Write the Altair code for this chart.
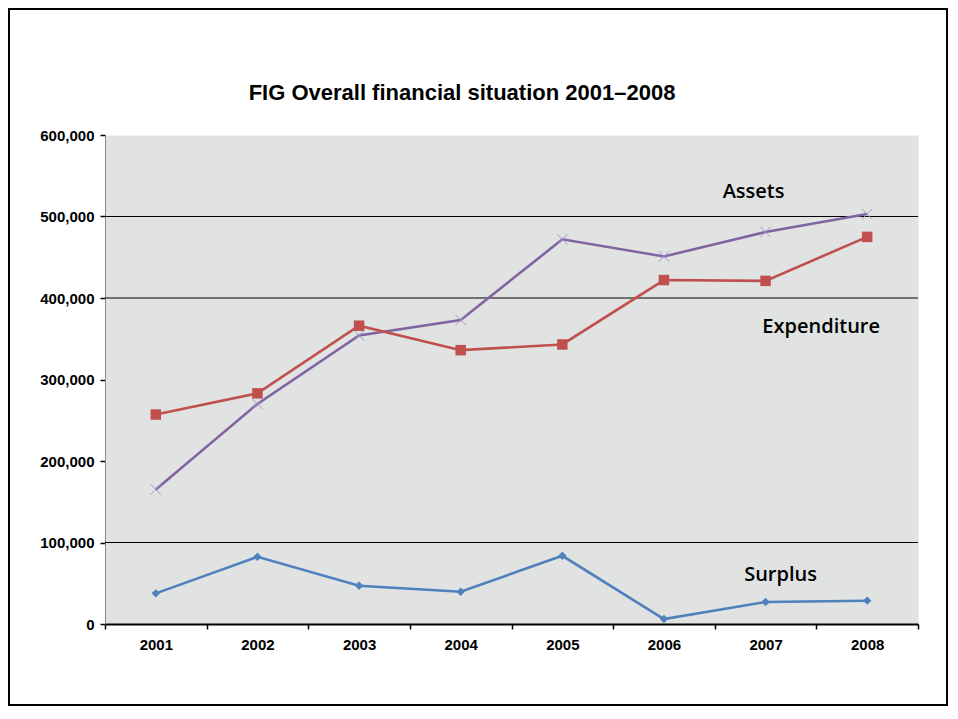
import altair as alt
import pandas as pd

# ---- data ----
years = ["2001", "2002", "2003", "2004", "2005", "2006", "2007", "2008"]
assets = [165000, 270000, 354000, 373000, 472000, 451000, 481000, 503000]
expenditure = [257000, 283000, 366000, 336000, 343000, 422000, 421000, 475000]
surplus = [37600, 82500, 47000, 39600, 83700, 6100, 27000, 28600]

series_names = ["Assets", "Expenditure", "Surplus"]
series_colors = ["#8064A2", "#C0504D", "#4F81BD"]

y_ticks = [0, 100000, 200000, 300000, 400000, 500000, 600000]
gridline_values = [100000, 400000, 500000]

label_texts = ["Assets", "Expenditure", "Surplus"]
label_years = ["2007", "2008", "2007"]
label_values = [530000, 365000, 60000]

title_text = "FIG Overall financial situation 2001\u20132008"

# ---- tables ----
rows = []
for name, vals in zip(series_names, [assets, expenditure, surplus]):
    for yr, v in zip(years, vals):
        rows.append({"year": yr, "series": name, "value": v})
df = pd.DataFrame(rows)
grid_df = pd.DataFrame({"value": gridline_values})
ann_df = pd.DataFrame({"year": label_years, "value": label_values, "label": label_texts})

AXIS_FONT = "Liberation Sans"
W, H = 813, 489

x_enc = alt.X(
    "year:O",
    scale=alt.Scale(type="band", domain=years, paddingInner=0, paddingOuter=0),
    bandPosition=0.5,
    axis=alt.Axis(
        title=None, labelAngle=0, tickBand="extent",
        domainColor="black", domainWidth=2,
        tickColor="black", tickWidth=1.5, tickSize=5,
        labelFont=AXIS_FONT, labelFontSize=15, labelFontWeight="bold",
        labelColor="black", labelPadding=8,
    ),
)
y_enc = alt.Y(
    "value:Q",
    scale=alt.Scale(domain=[0, 600000], nice=False),
    axis=alt.Axis(
        title=None, values=y_ticks, format=",d", grid=False,
        domainColor="#888888", domainWidth=1,
        tickColor="black", tickWidth=1.5, tickSize=5,
        labelFont=AXIS_FONT, labelFontSize=15, labelFontWeight="bold",
        labelColor="black", labelPadding=6,
    ),
)

base = alt.Chart(df)

grid = alt.Chart(grid_df).mark_rule(color="black", strokeWidth=1).encode(y=y_enc)

lines = base.mark_line(strokeWidth=2.6).encode(
    x=x_enc,
    y=y_enc,
    color=alt.Color("series:N", scale=alt.Scale(domain=series_names, range=series_colors), legend=None),
)

x_shape = "M-1,-1L1,1M-1,1L1,-1"
pts_assets = base.transform_filter(alt.datum.series == "Assets").mark_point(
    shape=x_shape, filled=False, stroke="#A595C8", strokeWidth=1, size=110, opacity=1
).encode(x=x_enc, y=y_enc)
pts_exp = base.transform_filter(alt.datum.series == "Expenditure").mark_point(
    shape="square", filled=True, color="#C0504D", size=110, opacity=1
).encode(x=x_enc, y=y_enc)
pts_sur = base.transform_filter(alt.datum.series == "Surplus").mark_point(
    shape="diamond", filled=True, color="#4F81BD", size=70, opacity=1
).encode(x=x_enc, y=y_enc)

label_dx = {"Assets": -12, "Expenditure": -46, "Surplus": 15}
ann_layers = []
for lab in label_texts:
    ann_layers.append(
        alt.Chart(ann_df).transform_filter(alt.datum.label == lab).mark_text(
            font="Open Sans", fontSize=20, fontWeight=600, color="black", dx=label_dx[lab]
        ).encode(x=x_enc, y=y_enc, text="label:N")
    )

title = alt.Chart(pd.DataFrame({"t": [title_text]})).mark_text(
    font=AXIS_FONT, fontSize=22, fontWeight="bold", color="black",
    align="center", baseline="alphabetic",
).encode(x=alt.value(357), y=alt.value(-35), text="t:N")

frame = alt.Chart(pd.DataFrame({"f": [0]})).mark_rect(
    filled=False, stroke="black", strokeWidth=2
).encode(
    x=alt.value(-96), x2=alt.value(W + 29),
    y=alt.value(-126), y2=alt.value(H + 81),
)

chart = alt.layer(
    grid, lines, pts_assets, pts_exp, pts_sur, *ann_layers, title, frame
).properties(
    width=W,
    height=H,
    background="white",
    padding={"left": 97, "top": 127, "right": 30, "bottom": 82},
    autosize=alt.AutoSizeParams(type="none"),
).configure_view(
    fill="#E0E3E2", stroke="transparent"
)

chart.save("out.html", embed_options={"renderer": "svg", "actions": False})
